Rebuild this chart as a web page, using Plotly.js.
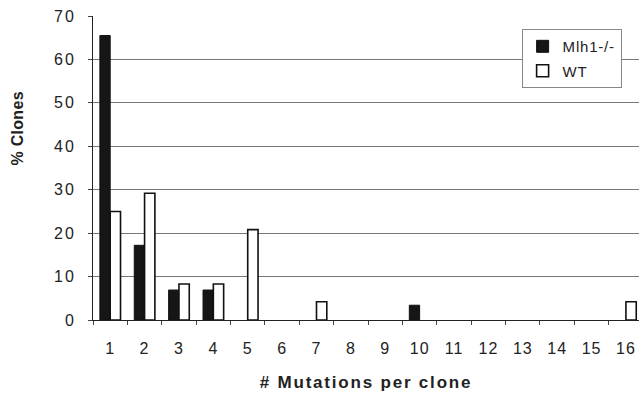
<!DOCTYPE html>
<html>
<head>
<meta charset="utf-8">
<script src="https://cdn.plot.ly/plotly-3.0.1.min.js"></script>
<style>
html,body{margin:0;padding:0;background:#fff;}
#chart{width:639px;height:393px;}
.ytick text{letter-spacing:2px;}
.xtick text{letter-spacing:1px;}
.xtitle{letter-spacing:1.8px;}
.annotation-text{letter-spacing:0.3px;}
.legendtext{letter-spacing:0.8px;}
</style>
</head>
<body>
<div id="chart"></div>
<script>
const categories = [1,2,3,4,5,6,7,8,9,10,11,12,13,14,15,16];
const mlh1Values = [65.5,17.2,6.9,6.9,0,0,0,0,0,3.4,0,0,0,0,0,0];
const wtValues   = [25.0,29.2,8.3,8.3,20.8,0,4.2,0,0,0,0,0,0,0,0,4.2];
const yTicks = [0,10,20,30,40,50,60,70];
const seriesNames = ['Mlh1-/-','WT'];
const xTitle = '# Mutations per clone';
const yTitle = '% Clones';

const boundaries = [];
for (let i = 0; i <= categories.length; i++) boundaries.push(categories[0] - 0.5 + i);

// zero-height bars get no outline (they are not visible in the reference)
const outline = (vals, w) => vals.map(v => v > 0 ? w : 0);

const traces = [
  {type:'bar', name:seriesNames[0], x:categories, y:mlh1Values, legendgroup:'a',
   marker:{color:'#161616', line:{color:'#111', width:outline(mlh1Values,1)}}},
  {type:'bar', name:seriesNames[1], x:categories, y:wtValues, legendgroup:'b',
   marker:{color:'#ffffff', line:{color:'#111', width:outline(wtValues,1.6)}}}
];

const layout = {
  width:639, height:393,
  margin:{l:93, r:0, t:16, b:73},
  paper_bgcolor:'#fff', plot_bgcolor:'#fff',
  font:{family:'Liberation Sans, Arial, sans-serif', color:'#222'},
  barmode:'group', bargap:0.4, bargroupgap:0,
  showlegend:true,
  legend:{x:0.785, y:0.957, xanchor:'left', yanchor:'top',
    bgcolor:'#fff', bordercolor:'#888', borderwidth:1,
    font:{size:15, color:'#222'}, traceorder:'grouped', tracegroupgap:2,
    itemwidth:30},
  xaxis:{
    range:[0.5, 16.38], tickmode:'array', tickvals:categories,
    ticktext:categories.map(String), ticks:'', ticklabelstandoff:14,
    ticklabeloverflow:'allow',
    tickfont:{size:16, color:'#222'},
    showgrid:false, zeroline:false, showline:true, linecolor:'#222', linewidth:1,
    minor:{tickmode:'array', tickvals:boundaries, ticks:'outside', ticklen:4, tickcolor:'#444', showgrid:false},
    title:{text:xTitle, font:{size:17, color:'#222', weight:'bold'}, standoff:19},
    fixedrange:true
  },
  yaxis:{
    range:[0,70], tickmode:'array', tickvals:yTicks,
    ticks:'outside', ticklen:4, tickcolor:'#444', ticklabelstandoff:9,
    tickfont:{size:16, color:'#222'},
    showgrid:true, gridcolor:'#777', gridwidth:1,
    zeroline:false, showline:true, linecolor:'#222', linewidth:1,
    fixedrange:true
  },
  annotations:[
    {text:yTitle, xref:'paper', yref:'paper', x:-0.139, y:0.63,
     xanchor:'center', yanchor:'middle', textangle:-90, showarrow:false,
     font:{size:16, color:'#222', weight:'bold'}}
  ]
};

Plotly.newPlot('chart', traces, layout, {staticPlot:true, displayModeBar:false});
</script>
</body>
</html>
